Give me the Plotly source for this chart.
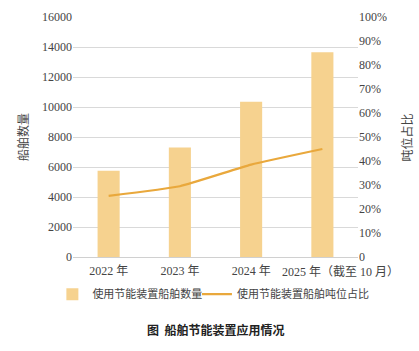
import plotly.graph_objects as go

categories = ["2022 年", "2023 年", "2024 年", "2025 年（截至 10 月）"]
ship_counts = [5750, 7300, 10350, 13650]
tonnage_share = [0.255, 0.295, 0.385, 0.45]
left_ticks = [0, 2000, 4000, 6000, 8000, 10000, 12000, 14000, 16000]
left_ticktext = [str(v) for v in left_ticks]
right_tickvals = [i / 10 for i in range(11)]
right_ticktext = ["0"] + [f"{i*10}%" for i in range(1, 11)]

bar_color = "#F6D28F"
line_color = "#E9A83C"
serif = "Liberation Serif, Noto Sans CJK SC"
cjk = "Noto Sans CJK SC"

fig = go.Figure()
fig.add_trace(go.Bar(
    x=categories, y=ship_counts, name="使用节能装置船舶数量", legend="legend",
    marker=dict(color=bar_color, line=dict(width=0)), width=0.31,
))
fig.add_trace(go.Scatter(
    x=categories, y=tonnage_share, name="使用节能装置船舶吨位占比", legend="legend2",
    yaxis="y2", mode="lines", line=dict(color=line_color, width=2.2, shape="spline", smoothing=0.4),
))

legend_common = dict(orientation="h", xref="container", yref="container",
                     xanchor="left", y=0.162, yanchor="middle",
                     font=dict(family=cjk, size=11, color="#444"),
                     itemwidth=30, bgcolor="rgba(0,0,0,0)")

fig.update_layout(
    width=419, height=351,
    margin=dict(l=73, r=61, t=17, b=94),
    paper_bgcolor="white", plot_bgcolor="white",
    showlegend=True,
    legend=dict(x=0.125, **legend_common),
    legend2=dict(x=0.47, **legend_common),
    xaxis=dict(showgrid=False, showline=False, ticks="", tickangle=0, automargin=False,
               type="category", range=[-0.5, 3.5], ticklabelstandoff=5,
               tickvals=categories, ticktext=categories[:3] + [""],
               tickfont=dict(family=serif, size=12, color="#444")),
    yaxis=dict(range=[0, 16000], tickvals=left_ticks, ticktext=left_ticktext, showgrid=True,
               gridcolor="#D9D9D9", automargin=False,
               gridwidth=1, zeroline=True, zerolinecolor="#D0D0D0", zerolinewidth=1,
               tickfont=dict(family=serif, size=12, color="#444"), ticks="", ticklen=0,
               title=dict(text="船舶数量", font=dict(family=cjk, size=12, color="#444"), standoff=10)),
    yaxis2=dict(range=[0, 1], overlaying="y", side="right", tickvals=right_tickvals,
                ticktext=right_ticktext, showgrid=False, zeroline=False, automargin=False,
                tickfont=dict(family=serif, size=12, color="#444")),
    bargap=0.5,
)

# last category label, shifted right as in the reference
fig.add_annotation(text=categories[3], x=3, xref="x", y=0, yref="paper",
                   yanchor="middle", yshift=-15, xshift=18, showarrow=False,
                   font=dict(family=serif, size=12, color="#444"))

fig.add_annotation(text="吨位占比", xref="paper", yref="paper", x=1.17, y=0.5,
                   textangle=-90, showarrow=False, xanchor="center", yanchor="middle",
                   font=dict(family=cjk, size=12, color="#444"))

fig.add_annotation(text="<b>图  船舶节能装置应用情况</b>", xref="paper", yref="paper",
                   x=0.5, y=-0.30, xanchor="center", yanchor="middle", showarrow=False,
                   font=dict(family=cjk, size=12, color="#222"))

fig.write_html("out.html")
